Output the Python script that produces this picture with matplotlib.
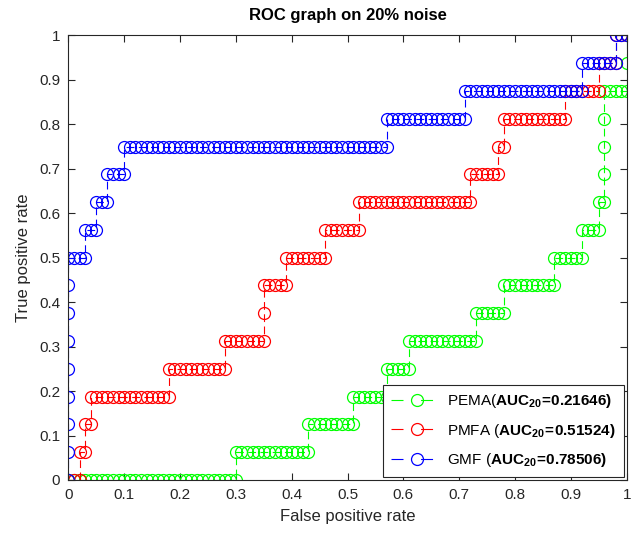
import numpy as np
import matplotlib
matplotlib.use('Agg')
import matplotlib.pyplot as plt

plt.rcParams['font.family'] = ['Liberation Sans', 'DejaVu Sans']
plt.rcParams['mathtext.fontset'] = 'custom'
plt.rcParams['mathtext.rm'] = 'Liberation Sans'
plt.rcParams['mathtext.bf'] = 'Liberation Sans:bold'

# numero di negativi e positivi
n_neg = 100
n_pos = 16

# per ogni positivo: quanti negativi lo precedono nella classifica
k_pema = [30, 43, 51, 57, 61, 73, 78, 87, 92, 95, 96, 96, 96, 96, 100, 100]
k_pmfa = [2, 3, 4, 18, 28, 35, 35, 39, 46, 52, 72, 77, 78, 89, 95, 98]
k_gmf = [0, 0, 0, 0, 0, 0, 0, 0, 3, 5, 7, 10, 57, 71, 92, 98]

names = ['PEMA', 'PMFA ', 'GMF ']
auc = ['0.21646', '0.51524', '0.78506']
colors = ['#00ff00', '#ff0000', '#0000ff']


def roc_points(k, n_neg):
    # costruisco i punti della curva ROC (un punto per ogni campione)
    fpr = [0]
    tpr = [0]
    tp = 0
    for fp in range(n_neg + 1):
        while tp < len(k) and k[tp] == fp:
            tp += 1
            fpr.append(fp)
            tpr.append(tp)
        if fp < n_neg:
            fpr.append(fp + 1)
            tpr.append(tp)
    return np.array(fpr) / n_neg, np.array(tpr) / len(k)


fig = plt.figure(figsize=(6.33, 5.36), dpi=100)
ax = fig.add_axes([0.108, 0.1045, 0.882, 0.8295])

for k, name, a, c in zip([k_pema, k_pmfa, k_gmf], names, auc, colors):
    x, y = roc_points(k, n_neg)
    lab = name + r'($\mathbf{AUC_{20}\!=\!' + a + r')}$'
    ax.plot(x, y, linestyle='--', dashes=(7, 4), color=c, lw=0.8,
            marker='o', markersize=8.6, markerfacecolor='none',
            markeredgewidth=0.9, label=lab)

ticks = np.arange(0, 1.01, 0.1)
tick_lab = ['0', '0.1', '0.2', '0.3', '0.4', '0.5', '0.6', '0.7', '0.8', '0.9', '1']
ax.set_xlim(0, 1)
ax.set_ylim(0, 1)
ax.set_xticks(ticks)
ax.set_yticks(ticks)
ax.set_xticklabels(tick_lab)
ax.set_yticklabels(tick_lab)
ax.tick_params(direction='in', top=True, right=True, labelsize=11, length=5,
               pad=6, colors='#262626', labelcolor='#262626')
for s in ax.spines.values():
    s.set_color('#262626')
    s.set_linewidth(0.8)

ax.set_xlabel('False positive rate', fontsize=12, color='#262626', labelpad=5)
ax.set_ylabel('True positive rate', fontsize=12, color='#262626', labelpad=6)
ax.set_title('ROC graph on 20% noise', fontsize=12, fontweight='bold', pad=11)

leg = ax.legend(loc='lower right', fontsize=11, handlelength=3.4, frameon=True,
                fancybox=False, framealpha=1, edgecolor='#262626',
                borderaxespad=0.2, labelspacing=0.75, borderpad=0.5,
                handletextpad=0.3)
leg.get_frame().set_linewidth(0.8)
for ln in leg.get_lines():
    ln.set_dashes((10.8, 15.8))

plt.savefig('out.png', dpi=100)
